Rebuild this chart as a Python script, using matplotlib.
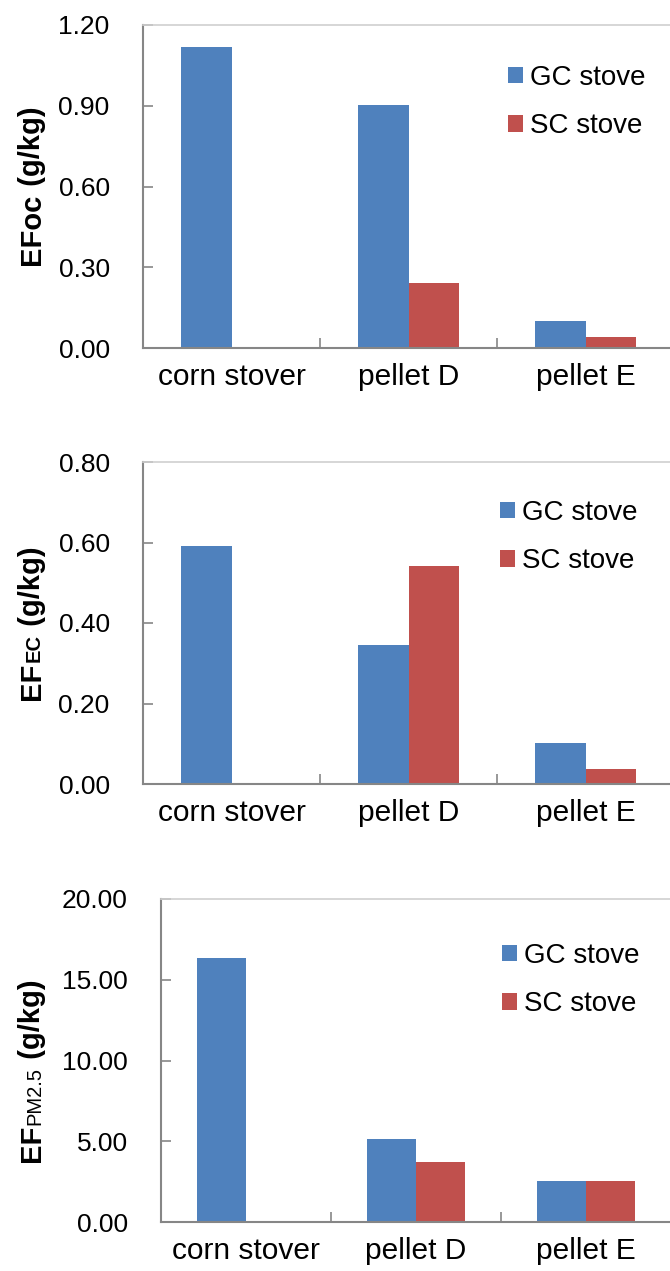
import matplotlib
matplotlib.use("Agg")
import matplotlib.pyplot as plt
import numpy as np

plt.rcParams['font.family'] = ['Liberation Sans', 'DejaVu Sans']

categories = ["corn stover", "pellet D", "pellet E"]
series_names = ["GC stove", "SC stove"]

oc_gc = [1.12, 0.903, 0.10]
oc_sc = [0.0, 0.242, 0.041]
ec_gc = [0.591, 0.345, 0.102]
ec_sc = [0.0, 0.542, 0.037]
pm_gc = [16.35, 5.14, 2.55]
pm_sc = [0.0, 3.72, 2.55]

oc_ticks = [0.0, 0.3, 0.6, 0.9, 1.2]
ec_ticks = [0.0, 0.2, 0.4, 0.6, 0.8]
pm_ticks = [0.0, 5.0, 10.0, 15.0, 20.0]

BLUE = "#4F81BD"
RED = "#C0504D"

W, H = 670, 1271
fig = plt.figure(figsize=(W / 100, H / 100), dpi=100)


def px_axes(left, right, top, bottom):
    return fig.add_axes([left / W, 1 - bottom / H, (right - left) / W, (bottom - top) / H])


panels = [
    dict(box=(143, 674, 25, 348), gc=oc_gc, sc=oc_sc, ticks=oc_ticks, bw=0.283,
         leg=(508, 78), label=[("EFoc", 21, "bold"), (" (g/kg)", 21, "bold")], lab=(40, 186)),
    dict(box=(143, 674, 462, 784), gc=ec_gc, sc=ec_sc, ticks=ec_ticks, bw=0.283,
         leg=(500, 513), label=[("EF", 21, "bold"), ("EC", 14.5, "bold"), (" (g/kg)", 21, "bold")], lab=(40, 623)),
    dict(box=(161, 671, 899, 1222), gc=pm_gc, sc=pm_sc, ticks=pm_ticks, bw=0.29,
         leg=(502, 956), label=[("EF", 21, "bold"), ("PM2.5", 14.5, "normal"), (" (g/kg)", 21, "bold")], lab=(40, 1071)),
]

label_sets = []
for p in panels:
    ax = px_axes(*p["box"])
    x = np.arange(len(categories))
    bw = p["bw"]
    ax.bar(x - bw / 2, p["gc"], width=bw, color=BLUE, label=series_names[0], zorder=2)
    ax.bar(x + bw / 2, p["sc"], width=bw, color=RED, label=series_names[1], zorder=2)
    ax.set_xlim(-0.5, len(categories) - 0.5)
    ax.set_ylim(p["ticks"][0], p["ticks"][-1])
    ax.set_yticks(p["ticks"])
    ax.set_yticklabels([f"{t:.2f}" for t in p["ticks"]])
    ax.set_xticks(x)
    ax.set_xticklabels(categories)
    ax.set_xticks(np.arange(0.5, len(categories) - 0.5, 1.0), minor=True)
    ax.tick_params(axis="x", which="major", length=0, labelsize=21.5, pad=11)
    ax.tick_params(axis="x", which="minor", direction="in", length=7, width=1.2, color="#868686")
    ax.tick_params(axis="y", which="major", direction="in", length=7, width=1.2, color="#868686",
                   labelsize=19, pad=24)
    for s in ["left", "bottom"]:
        ax.spines[s].set_color("#868686")
        ax.spines[s].set_linewidth(1.5)
    ax.spines["top"].set_color("#D0D0D0")
    ax.spines["top"].set_linewidth(1.2)
    ax.spines["right"].set_visible(False)
    lx, ly = p["leg"]
    ax.legend(loc="center left", bbox_to_anchor=(lx / W, 1 - (ly + 24) / H),
              bbox_transform=fig.transFigure, frameon=False, fontsize=20,
              handlelength=0.55, handleheight=0.55, handletextpad=0.25,
              labelspacing=0.8, borderpad=0, borderaxespad=0)
    texts = []
    for t, size, wt in p["label"]:
        txt = fig.text(0, 0, t, rotation=90, rotation_mode="anchor", ha="left", va="baseline",
                       fontsize=size, fontweight=wt)
        texts.append(txt)
    label_sets.append((texts, p["lab"]))

fig.canvas.draw()
r = fig.canvas.get_renderer()
for texts, (bx, cy) in label_sets:
    lengths = [t.get_window_extent(r).height for t in texts]
    total = sum(lengths)
    y = (H - cy) - total / 2
    for t, L in zip(texts, lengths):
        t.set_position((bx / W, y / H))
        y += L

fig.savefig("out.png", dpi=100)
